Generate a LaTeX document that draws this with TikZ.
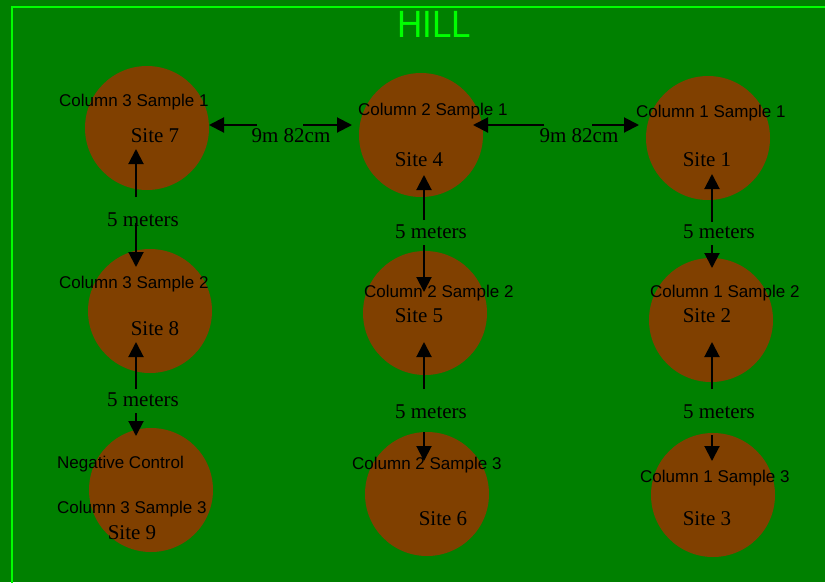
\documentclass[tikz,border=0pt]{standalone}
\usepackage{fontspec}
\setmainfont{Liberation Serif}
\newfontfamily\arialfont{Liberation Sans}
\usetikzlibrary{arrows.meta}
\definecolor{HillGreen}{HTML}{008000}
\definecolor{HillLime}{HTML}{00FF00}
\definecolor{SoilBrown}{HTML}{804000}

\begin{document}
\begin{tikzpicture}[x=1pt, y=-1pt, >={Triangle[length=15pt, width=15pt]},
        site/.style={circle, fill=SoilBrown, minimum size=124pt, inner sep=0pt},
        sitelabel/.style={inner sep=0pt, font=\fontsize{21}{24}\selectfont},
        samplelabel/.style={inner sep=0pt, anchor=west, font=\arialfont\fontsize{17}{19}\selectfont},
        distlabel/.style={inner sep=0pt, font=\fontsize{21}{24}\selectfont},
        arrow/.style={->, line width=2pt, black}]

        \useasboundingbox (0,0) rectangle (825,582);
        \clip (0,0) rectangle (825,582);
        \fill[HillGreen] (0,0) rectangle (825,582);
        \draw[HillLime, line width=2pt] (11.5,6.5) rectangle (840,600);
        \node[text=HillLime, inner sep=0pt, xscale=0.92, font=\arialfont\fontsize{38}{40}\selectfont] (hill) at (434,24) {HILL};

        % sampling sites
        \node[site] (s7) at (147,128) {};
        \node[site] (s8) at (150,311) {};
        \node[site] (s9) at (151,490) {};
        \node[site] (s4) at (421,135) {};
        \node[site] (s5) at (425,313) {};
        \node[site] (s6) at (427,494) {};
        \node[site] (s1) at (708,138) {};
        \node[site] (s2) at (711,320) {};
        \node[site] (s3) at (713,495) {};

        % column 3
        \node[samplelabel] (c3s1) at (59,102) {Column 3 Sample 1};
        \node[sitelabel] (t7) at (155,136) {Site 7};
        \node[samplelabel] (c3s2) at (59,284) {Column 3 Sample 2};
        \node[sitelabel] (t8) at (155,329) {Site 8};
        \node[samplelabel] (neg) at (57,464) {Negative Control};
        \node[samplelabel] (c3s3) at (57,509) {Column 3 Sample 3};
        \node[sitelabel] (t9) at (132,533) {Site 9};

        % column 2
        \node[samplelabel] (c2s1) at (358,111) {Column 2 Sample 1};
        \node[sitelabel] (t4) at (419,160) {Site 4};
        \node[samplelabel] (c2s2) at (364,293) {Column 2 Sample 2};
        \node[sitelabel] (t5) at (419,316) {Site 5};
        \node[samplelabel] (c2s3) at (352,465) {Column 2 Sample 3};
        \node[sitelabel] (t6) at (443,519) {Site 6};

        % column 1
        \node[samplelabel] (c1s1) at (636,113) {Column 1 Sample 1};
        \node[sitelabel] (t1) at (707,160) {Site 1};
        \node[samplelabel] (c1s2) at (650,293) {Column 1 Sample 2};
        \node[sitelabel] (t2) at (707,316) {Site 2};
        \node[samplelabel] (c1s3) at (640,478) {Column 1 Sample 3};
        \node[sitelabel] (t3) at (707,519) {Site 3};

        % distances
        \node[distlabel] (d74) at (291,136) {9m 82cm};
        \node[distlabel] (d41) at (579,136) {9m 82cm};
        \node[distlabel] (d78) at (143,220) {5 meters};
        \node[distlabel] (d89) at (143,400) {5 meters};
        \node[distlabel] (d45) at (431,232) {5 meters};
        \node[distlabel] (d56) at (431,412) {5 meters};
        \node[distlabel] (d12) at (719,232) {5 meters};
        \node[distlabel] (d23) at (719,412) {5 meters};

        % arrow ends
        \coordinate (h74a) at (257,125); \coordinate (h74b) at (209,125);
        \coordinate (h74c) at (303,125); \coordinate (h74d) at (352,125);
        \coordinate (h41a) at (544,125); \coordinate (h41b) at (473,125);
        \coordinate (h41c) at (592,125); \coordinate (h41d) at (639,125);
        \coordinate (v78a) at (136,197); \coordinate (v78b) at (136,149);
        \coordinate (v78c) at (136,223); \coordinate (v78d) at (136,267);
        \coordinate (v89a) at (136,389); \coordinate (v89b) at (136,342);
        \coordinate (v89c) at (136,413); \coordinate (v89d) at (136,436);
        \coordinate (v45a) at (424,220); \coordinate (v45b) at (424,175);
        \coordinate (v45c) at (424,245); \coordinate (v45d) at (424,292);
        \coordinate (v56a) at (424,389); \coordinate (v56b) at (424,342);
        \coordinate (v56c) at (424,432); \coordinate (v56d) at (424,461);
        \coordinate (v12a) at (712,222); \coordinate (v12b) at (712,174);
        \coordinate (v12c) at (712,245); \coordinate (v12d) at (712,268);
        \coordinate (v23a) at (712,389); \coordinate (v23b) at (712,342);
        \coordinate (v23c) at (712,435); \coordinate (v23d) at (712,461);

        \foreach \a in {h74, h41, v78, v89, v45, v56, v12, v23} {
            \draw[arrow] (\a a) -- (\a b);
            \draw[arrow] (\a c) -- (\a d);
        }
    \end{tikzpicture}
\end{document}
